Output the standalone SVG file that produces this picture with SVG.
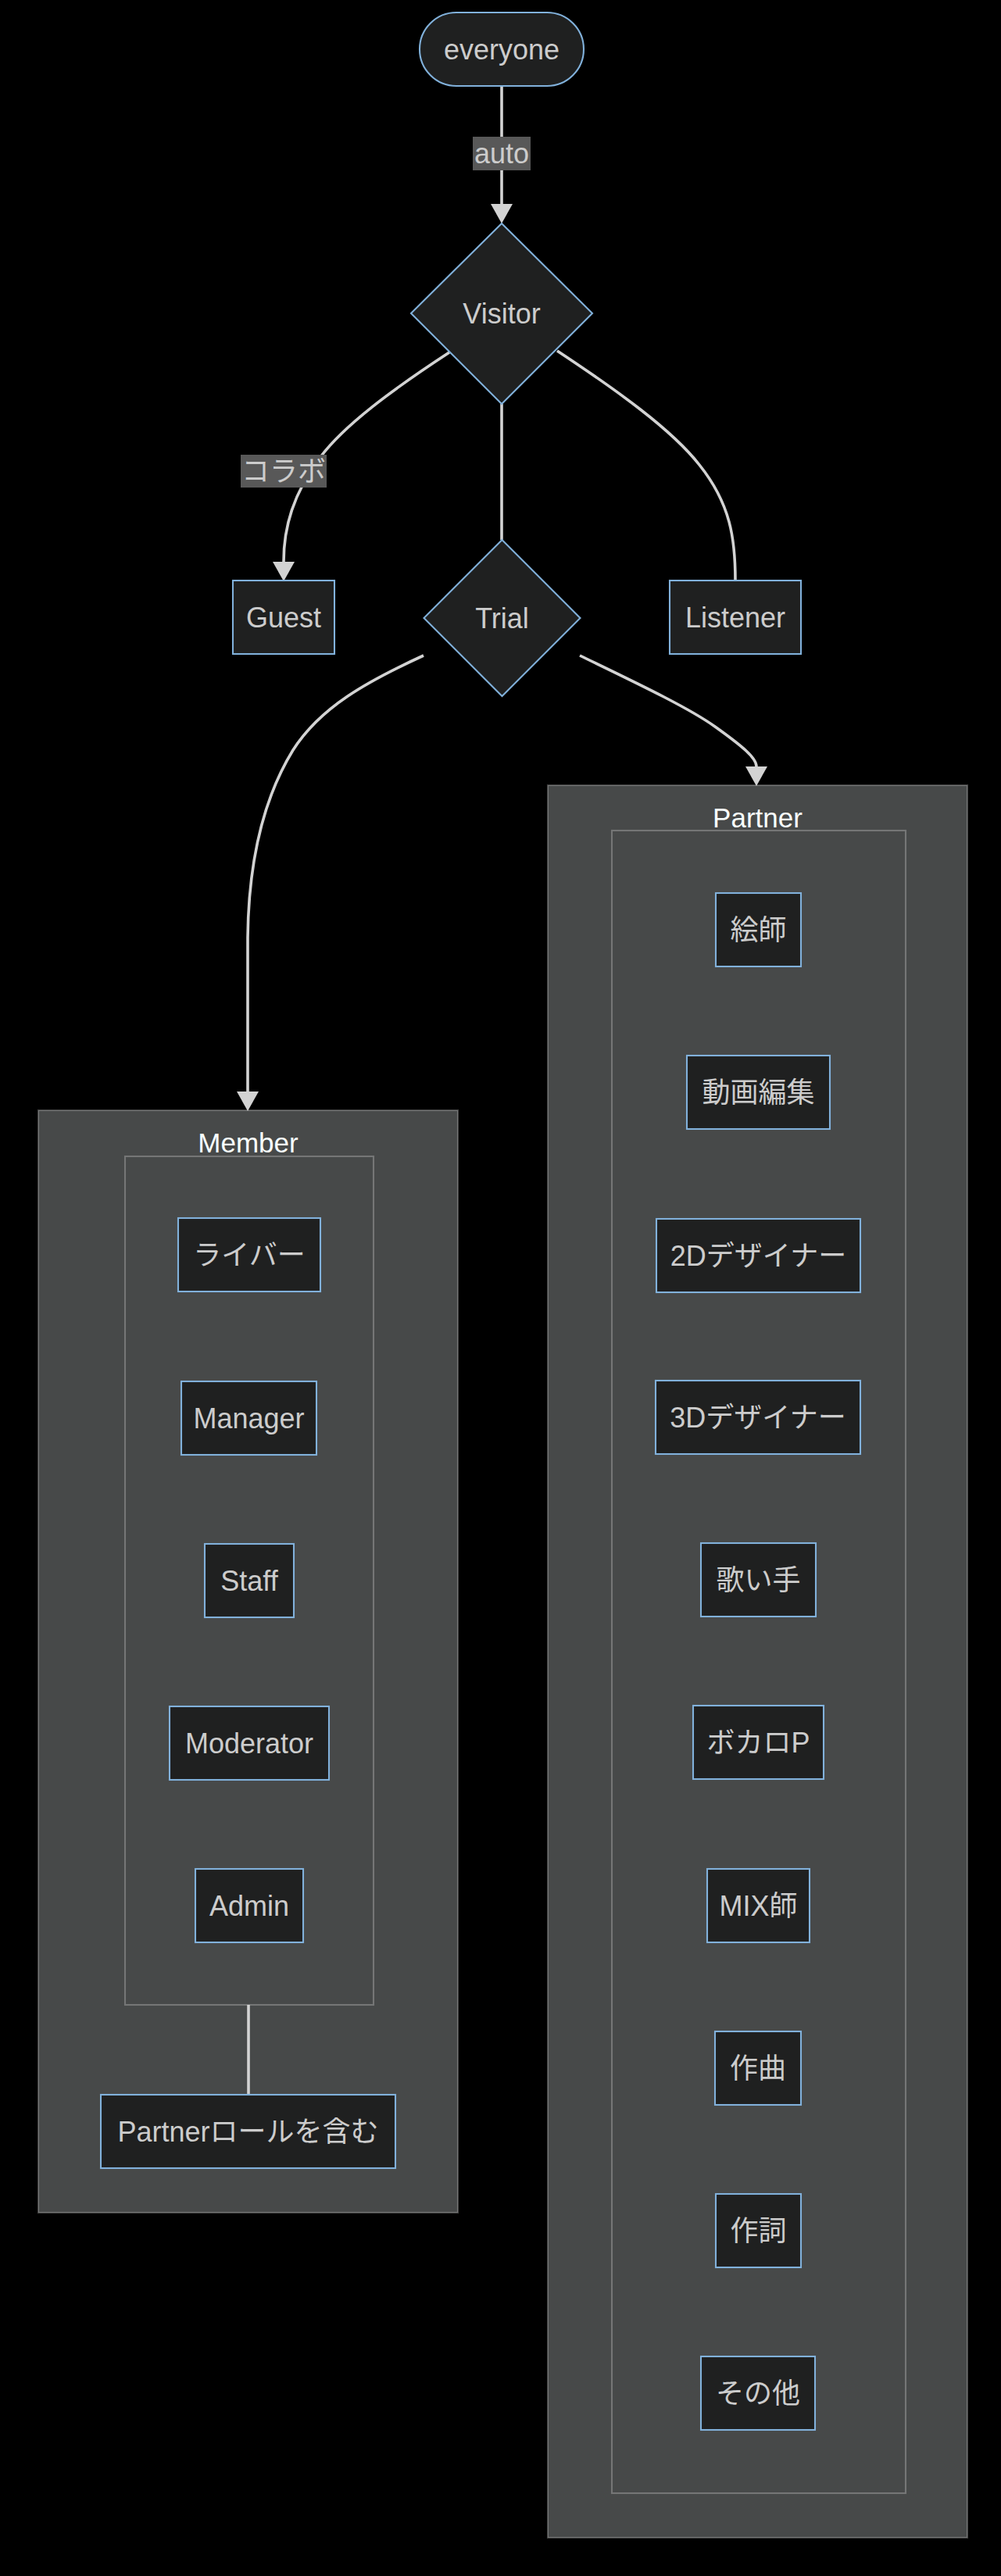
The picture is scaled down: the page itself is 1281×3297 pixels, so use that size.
<svg xmlns="http://www.w3.org/2000/svg" width="1281" height="3297" viewBox="0 0 1281 3297">
<style>
.bg{fill:#000}
.node{fill:#1f2020;stroke:#81b1db;stroke-width:2.1}
.cluster{fill:#474949;stroke:rgba(255,255,255,0.25);stroke-width:2.1}
.t{font-family:"Liberation Sans","Noto Sans CJK JP",sans-serif;font-size:36px;fill:#cccccc;text-anchor:middle;dominant-baseline:central}
.title{font-family:"Liberation Sans","Noto Sans CJK JP",sans-serif;font-size:35px;fill:#f9fffe;text-anchor:middle}
.edge{fill:none;stroke:#d3d3d3;stroke-width:3.6}
.lbl{fill:#585858}
</style>
<defs>
<marker id="arrow" viewBox="0 0 25 28" refX="0" refY="14" markerWidth="25" markerHeight="28" markerUnits="userSpaceOnUse" orient="auto">
<path d="M0,0 L25,14 L0,28 z" fill="#d3d3d3"/>
</marker>
</defs>
<rect class="bg" x="0" y="0" width="1281" height="3297"/>

<g id="clusters">
<g id="Member"><rect class="cluster" x="49" y="1421" width="537" height="1411"/><text class="title" x="317.5" y="1475">Member</text></g>
<g id="MemberInner"><rect class="cluster" x="160" y="1480" width="318" height="1086"/></g>
<g id="Partner"><rect class="cluster" x="701" y="1005" width="537" height="2243"/><text class="title" x="969.5" y="1059">Partner</text></g>
<g id="PartnerInner"><rect class="cluster" x="783" y="1063" width="376" height="2128"/></g>
</g>

<g id="connectors">
<path class="edge" d="M642,110 L642,261" marker-end="url(#arrow)"/>
<path class="edge" d="M575,451 C500,500 440,545 410,585 C375,632 363,675 363,719" marker-end="url(#arrow)"/>
<path class="edge" d="M642,517 L642,691"/>
<path class="edge" d="M713,449 C790,500 860,550 895,595 C935,645 941,690 941,743"/>
<path class="edge" d="M542,839 C470,872 410,905 375,960 C335,1025 318,1110 317,1200 C316.5,1300 317,1360 317,1397" marker-end="url(#arrow)"/>
<path class="edge" d="M742,839 C810,872 880,905 915,930 C950,955 968,970 968,981" marker-end="url(#arrow)"/>
<path class="edge" d="M318,2566 L318,2681"/>
<g id="edge-labels">
<rect class="lbl" x="605" y="175" width="74" height="43"/><text class="t" x="642" y="196.5">auto</text>
<rect class="lbl" x="308" y="582" width="110" height="42"/><text class="t" x="363" y="603">コラボ</text>
</g>
</g>

<g id="everyone"><rect class="node" x="537" y="16" width="210" height="94" rx="47"/><text class="t" x="642" y="63">everyone</text></g>
<g id="Visitor"><polygon class="node" points="642,286 758,401 642,517 526,401"/><text class="t" x="642" y="401">Visitor</text></g>
<g id="Guest"><rect class="node" x="298" y="743" width="130" height="94"/><text class="t" x="363" y="790">Guest</text></g>
<g id="Trial"><polygon class="node" points="642.5,691 742.5,791 642.5,891 542.5,791"/><text class="t" x="642.5" y="791">Trial</text></g>
<g id="Listener"><rect class="node" x="857" y="743" width="168" height="94"/><text class="t" x="941" y="790">Listener</text></g>

<g id="Liver"><rect class="node" x="228" y="1559" width="182" height="94"/><text class="t" x="319" y="1606">ライバー</text></g>
<g id="Manager"><rect class="node" x="232" y="1768" width="173" height="94"/><text class="t" x="318.5" y="1815">Manager</text></g>
<g id="Staff"><rect class="node" x="262" y="1976" width="114" height="94"/><text class="t" x="319" y="2023">Staff</text></g>
<g id="Moderator"><rect class="node" x="217" y="2184" width="204" height="94"/><text class="t" x="319" y="2231">Moderator</text></g>
<g id="Admin"><rect class="node" x="250" y="2392" width="138" height="94"/><text class="t" x="319" y="2439">Admin</text></g>
<g id="IncludesPartner"><rect class="node" x="129" y="2681" width="377" height="94"/><text class="t" x="317.5" y="2728">Partnerロールを含む</text></g>

<g id="Eshi"><rect class="node" x="916" y="1143" width="109" height="94"/><text class="t" x="970.5" y="1190">絵師</text></g>
<g id="Douga"><rect class="node" x="879" y="1351" width="183" height="94"/><text class="t" x="970.5" y="1398">動画編集</text></g>
<g id="Designer2D"><rect class="node" x="840" y="1560" width="261" height="94"/><text class="t" x="970.5" y="1607">2Dデザイナー</text></g>
<g id="Designer3D"><rect class="node" x="839" y="1767" width="262" height="94"/><text class="t" x="970" y="1814">3Dデザイナー</text></g>
<g id="Utaite"><rect class="node" x="897" y="1975" width="147" height="94"/><text class="t" x="970.5" y="2022">歌い手</text></g>
<g id="VocaloP"><rect class="node" x="887" y="2183" width="167" height="94"/><text class="t" x="970.5" y="2230">ボカロP</text></g>
<g id="MIX"><rect class="node" x="905" y="2392" width="131" height="94"/><text class="t" x="970.5" y="2439">MIX師</text></g>
<g id="Sakkyoku"><rect class="node" x="915" y="2600" width="110" height="94"/><text class="t" x="970" y="2647">作曲</text></g>
<g id="Sakushi"><rect class="node" x="916" y="2808" width="109" height="94"/><text class="t" x="970.5" y="2855">作詞</text></g>
<g id="Other"><rect class="node" x="897" y="3016" width="146" height="94"/><text class="t" x="970" y="3063">その他</text></g>
</svg>
